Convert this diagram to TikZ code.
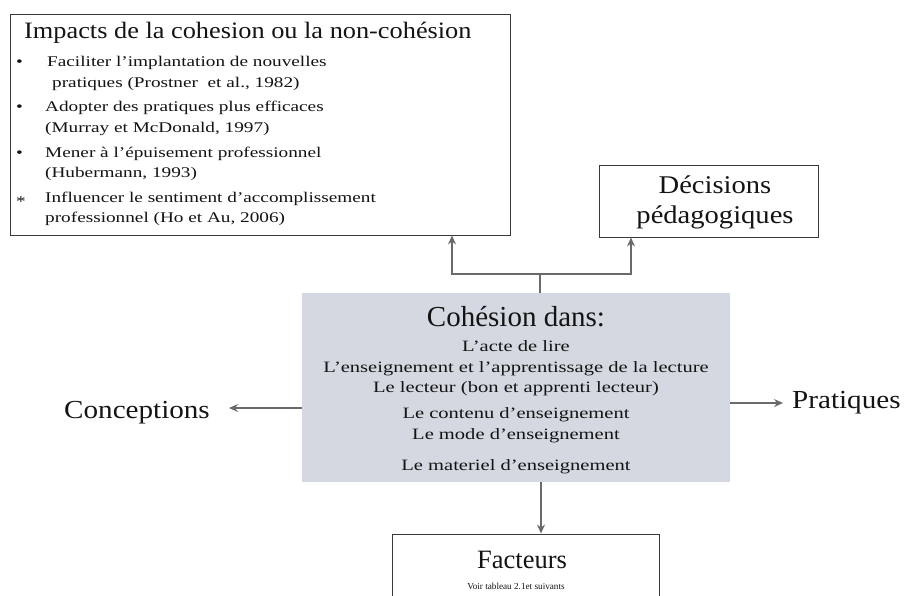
\documentclass[tikz,border=0pt]{standalone}
\usepackage{fontspec}
\setmainfont{Liberation Serif}
\newfontfamily\widefont[FakeStretch=1.3]{Liberation Serif}
\newfontfamily\midfont[FakeStretch=1.12]{Liberation Serif}
\usetikzlibrary{arrows.meta}
\definecolor{boxline}{HTML}{3A3A3A}
\definecolor{cohfill}{HTML}{D4D9E1}
\definecolor{arrowgray}{HTML}{6A6A6A}
\definecolor{ink}{HTML}{141414}
\begin{document}
\begin{tikzpicture}[x=1pt,y=-1pt,
  frame/.style={draw=boxline,line width=1pt,fill=white,inner sep=0pt},
  txt/.style={text=ink,inner sep=0pt},
  lefttxt/.style={txt,anchor=base west,font=\widefont\fontsize{14.8}{17}\selectfont},
  bodytxt/.style={txt,anchor=base,font=\widefont\fontsize{15.8}{18}\selectfont},
  link/.style={draw=arrowgray,line width=1.3pt},
  tip/.style={link,-{Stealth[length=9pt,width=8pt,inset=3pt]}}]
\useasboundingbox (0,0) rectangle (904,595);

% boxes
\node[frame,minimum width=500pt,minimum height=221pt] (imp) at (260,124.5) {};
\node[frame,minimum width=219pt,minimum height=72pt] (dec) at (708.5,201) {};
\node[draw=none,fill=cohfill,inner sep=0pt,minimum width=428pt,minimum height=189pt] (coh) at (516,387.5) {};
\node[frame,minimum width=267pt,minimum height=120pt] (fac) at (525.5,594) {};

% impacts list
\node[lefttxt,font=\midfont\fontsize{23.5}{26}\selectfont] (impt) at (24,38) {Impacts de la cohesion ou la non-cohésion};
\node[lefttxt] (b1) at (16,66) {•};
\node[lefttxt] (l1) at (47,66) {Faciliter l’implantation de nouvelles};
\node[lefttxt] (l2) at (52,87) {pratiques (Prostner\ \ et al., 1982)};
\node[lefttxt] (b2) at (16,111) {•};
\node[lefttxt] (l3) at (45,111) {Adopter des pratiques plus efficaces};
\node[lefttxt] (l4) at (45,132) {(Murray et McDonald, 1997)};
\node[lefttxt] (b3) at (16,157) {•};
\node[lefttxt] (l5) at (45,157) {Mener à l’épuisement professionnel};
\node[lefttxt] (l6) at (45,177) {(Hubermann, 1993)};
\node[lefttxt] (b4) at (16,206) {*};
\node[lefttxt] (l7) at (45,202) {Influencer le sentiment d’accomplissement};
\node[lefttxt] (l8) at (45,222) {professionnel (Ho et Au, 2006)};

% decisions
\node[txt,anchor=base,font=\midfont\fontsize{25.5}{28}\selectfont] (dec1) at (715,193) {Décisions};
\node[txt,anchor=base,font=\midfont\fontsize{25.5}{28}\selectfont] (dec2) at (715,223) {pédagogiques};

% cohesion
\node[txt,anchor=base,font=\fontsize{29}{32}\selectfont] (cht) at (516,326) {Cohésion dans:};
\node[bodytxt] (c1) at (516,351) {L’acte de lire};
\node[bodytxt] (c2) at (516,372) {L’enseignement et l’apprentissage de la lecture};
\node[bodytxt] (c3) at (516,392) {Le lecteur (bon et apprenti lecteur)};
\node[bodytxt] (c4) at (516,418) {Le contenu d’enseignement};
\node[bodytxt] (c5) at (516,439) {Le mode d’enseignement};
\node[bodytxt] (c6) at (516,470) {Le materiel d’enseignement};

% side labels
\node[txt,anchor=base,font=\midfont\fontsize{26}{28}\selectfont] (conc) at (137,418) {Conceptions};
\node[txt,anchor=base west,font=\midfont\fontsize{26}{28}\selectfont] (prat) at (792,408) {Pratiques};

% facteurs
\node[txt,anchor=base,font=\fontsize{26.5}{30}\selectfont] (fac1) at (522,568) {Facteurs};
\node[txt,anchor=base,font=\fontsize{9.2}{11}\selectfont] (fac2) at (516,589) {Voir tableau 2.1et suivants};

% connectors
\coordinate (fork) at (540,274);
\coordinate (ia) at (452,0);
\coordinate (da) at (631,0);
\coordinate (fa) at (541,0);
\coordinate (cy) at (0,408);
\coordinate (py) at (0,403);
\coordinate (ce) at (229,0);
\coordinate (pe) at (783,0);
\draw[link] (coh.north -| fork) -- (fork);
\draw[tip] (fork) -| (imp.south -| ia);
\draw[tip] (fork) -| (dec.south -| da);
\draw[tip] (coh.south -| fa) -- (fac.north -| fa);
\draw[tip] (coh.west |- cy) -- (ce |- cy);
\draw[tip] (coh.east |- py) -- (pe |- py);
\end{tikzpicture}
\end{document}
